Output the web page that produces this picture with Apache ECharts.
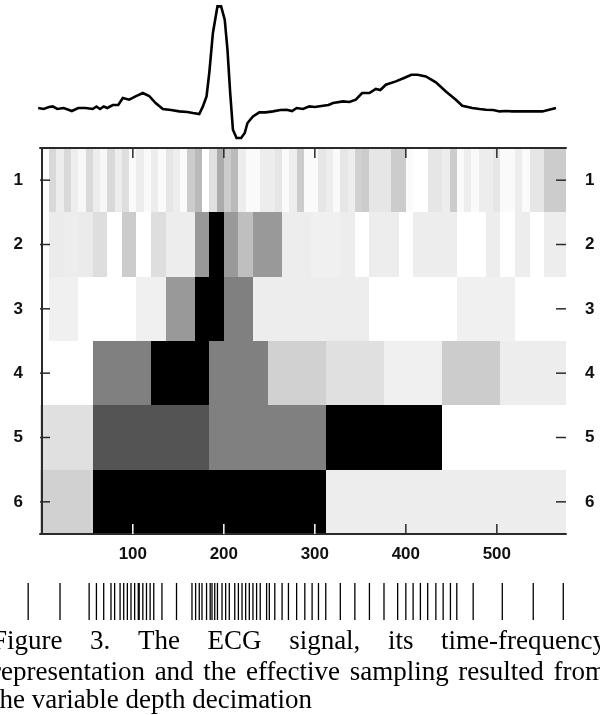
<!DOCTYPE html>
<html><head><meta charset="utf-8">
<script src="https://cdn.jsdelivr.net/npm/echarts@6/dist/echarts.min.js"></script>
<style>html,body{margin:0;padding:0;background:#fff}#c{width:600px;height:715px}</style>
</head><body><div id="c"></div>
<script>
// ---- data ----
const xTicks = [100, 200, 300, 400, 500];
const scaleLabels = [1, 2, 3, 4, 5, 6];
const rowWidths = [8, 16, 32, 64, 128, 256];
const rowStarts = [8, 8, 8, -8, -72, -200];
const row1 = [0.15,0.07,0.15,0.07,0.03,0.15,0.07,0.03,0.15,0.07,
              0.13,0.02,0.07,0.02,0.07,0.02,0.1,0.07,0.02,0.2,
              0.27,0.0,0.12,0.33,0.2,0.27,0.07,0.02,0.02,0.07,
              0.07,0.1,0.02,0.07,0.2,0.02,0.02,0.1,0.07,0.02,
              0.1,0.07,0.18,0.2,0.1,0.1,0.1,0.2,0.2,0.02,
              0.0,0.0,0.1,0.1,0.07,0.2,0.02,0.07,0.02,0.07,
              0.07,0.1,0.02,0.02,0.07,0.02,0.1,0.1,0.2,0.2,
              0.2];
const row2 = [0.08,0.07,0.08,0.13,0.0,0.2,0.0,0.13,0.07,0.07,0.4,1.0,0.4,0.25,0.4,0.4,0.07,0.07,
              0.06,0.06,0.07,0.0,0.07,0.07,0.0,0.07,0.07,0.07,0.0,0.0,0.07,0.0,0.07,0.0,0.07,0.07];
const row3 = [0.06,0,0,0.06,0.4,1.0,0.5,0.07,0.07,0.07,0.07,0,0,0,0.06,0.06,0,0];
const row4 = [0,0.5,1,0.5,0.18,0.12,0.06,0.2,0.07,0.07];
const row5 = [0.12,0.67,0.5,1,0,0];
const row6 = [0.18,1,0.07,0.07];

const ecgX = [-4,2,8,12,17,24,30,33,40,48,56,60,64,68,72,78,84,89,96,103,111,118,125,133,142,151,160,166,173,
              177,181,184,188,193,197,201,204,207,210,214,219,223,226,232,239,246,254,262,269,275,280,287,294,300,
              309,315,320,331,338,345,352,360,367,372,378,389,398,406,413,422,433,444,455,462,473,481,488,496,503,
              510,517,530,540,550,565];
const ecgY = [0.0,-0.01,0.01,0.016,-0.01,0.0,-0.02,-0.03,0.0,0.0,-0.01,0.015,-0.01,0.015,0.0,0.03,0.03,0.10,0.083,
              0.116,0.15,0.12,0.05,-0.01,-0.02,-0.034,-0.04,-0.05,-0.06,0.016,0.116,0.35,0.75,1.016,1.016,0.883,
              0.583,0.15,-0.217,-0.30,-0.30,-0.25,-0.15,-0.084,-0.044,-0.044,-0.034,-0.02,-0.017,-0.03,0.0,-0.01,
              0.016,0.01,0.023,0.03,0.05,0.066,0.06,0.083,0.15,0.15,0.19,0.18,0.233,0.266,0.30,0.333,0.333,0.316,
              0.256,0.166,0.083,0.023,0.0,-0.01,-0.017,-0.02,-0.034,-0.03,-0.034,-0.034,-0.034,-0.034,0.0];

const sampleX = [-15,20,52,60,68,76,80,86,90,94,98,102,106,107,111,115,119,123,132,148,
                 165,169,173,176,181,185,187,190,193,198,202,206,212,216,220,224,228,232,236,240,
                 247,250,256,264,271,280,289,297,304,312,328,344,360,376,391,400,408,416,424,433,
                 441,449,456,474,506,540,573];

const captionLines = [
  "Figure 3. The ECG signal, its time-frequency",
  "representation and the effective sampling resulted from",
  "the variable depth decimation"
];

// ---- build ----
const rows = [row1, row2, row3, row4, row5, row6];
const cells = [];
rows.forEach((vals, r) => vals.forEach((v, j) => {
  const x0 = rowStarts[r] + j * rowWidths[r];
  cells.push([x0, x0 + rowWidths[r], r + 1, v]);
}));
function grayOf(v) { const g = Math.round(255 * (1 - v)); return 'rgb(' + g + ',' + g + ',' + g + ')'; }
function energyAt(r, x) { const j = Math.floor((x - rowStarts[r]) / rowWidths[r]); return rows[r][j] || 0; }

const XMIN = -2, XMAX = 576;
const labelFont = { fontFamily: '"Liberation Sans", Arial, sans-serif', fontWeight: 'bold', fontSize: 17, color: '#111' };
const axisCol = '#2a2a2a';
const TICK = 10;

// tick descriptors: [side, value]
const tickItems = [];
xTicks.forEach(v => { tickItems.push([0, v]); tickItems.push([1, v]); });
scaleLabels.forEach(v => { tickItems.push([2, v]); tickItems.push([3, v]); });

// caption, justified
const capFont = '27px "Liberation Serif"';
const ctx = document.createElement('canvas').getContext('2d');
ctx.font = capFont;
const L = -8, R = 606, baselines = [650, 681, 709];
const graphics = [];
captionLines.forEach((line, i) => {
  const words = line.split(' ');
  const ws = words.map(w => ctx.measureText(w).width);
  const total = ws.reduce((a, b) => a + b, 0);
  const last = i === captionLines.length - 1;
  const gap = last ? ctx.measureText(' ').width : (R - L - total) / (words.length - 1);
  let x = L;
  words.forEach((w, k) => {
    graphics.push({ type: 'text', x: x, y: baselines[i] - 8.2, silent: true,
      style: { text: w, font: capFont, fill: '#000', align: 'left', verticalAlign: 'middle' } });
    x += ws[k] + gap;
  });
});

const chart = echarts.init(document.getElementById('c'), null, { renderer: 'canvas' });
chart.setOption({
  animation: false,
  backgroundColor: '#fff',
  grid: [
    { left: 40, right: 34, top: 5, height: 135, outerBoundsMode: 'none', containLabel: false },
    { left: 40, right: 34, top: 148, height: 386, outerBoundsMode: 'none', containLabel: false },
    { left: 40, right: 34, top: 583, height: 37, outerBoundsMode: 'none', containLabel: false }
  ],
  xAxis: [
    { gridIndex: 0, type: 'value', min: XMIN, max: XMAX, show: false },
    { gridIndex: 1, type: 'value', min: XMIN, max: XMAX, z: 5,
      axisLine: { show: true, lineStyle: { color: axisCol, width: 2 } },
      axisTick: { show: false },
      splitLine: { show: false },
      axisLabel: Object.assign({ customValues: xTicks, margin: 12 }, labelFont) },
    { gridIndex: 1, type: 'value', position: 'top', min: XMIN, max: XMAX, z: 5,
      axisLine: { show: true, lineStyle: { color: axisCol, width: 2 } },
      axisTick: { show: false }, splitLine: { show: false }, axisLabel: { show: false } },
    { gridIndex: 2, type: 'value', min: XMIN, max: XMAX, show: false }
  ],
  yAxis: [
    { gridIndex: 0, type: 'value', min: -0.32, max: 1.03, show: false },
    { gridIndex: 1, type: 'value', min: 0.5, max: 6.5, inverse: true, z: 5,
      axisLine: { show: true, lineStyle: { color: axisCol, width: 2 } },
      axisTick: { show: false }, splitLine: { show: false },
      axisLabel: Object.assign({ customValues: scaleLabels, margin: 17 }, labelFont) },
    { gridIndex: 1, type: 'value', position: 'right', min: 0.5, max: 6.5, inverse: true, z: 5,
      axisLine: { show: true, lineStyle: { color: axisCol, width: 2 } },
      axisTick: { show: false }, splitLine: { show: false },
      axisLabel: Object.assign({ customValues: scaleLabels, margin: 19 }, labelFont) },
    { gridIndex: 2, type: 'value', min: 0, max: 1, show: false }
  ],
  series: [
    { type: 'line', xAxisIndex: 0, yAxisIndex: 0, clip: false, symbol: 'none', silent: true,
      data: ecgX.map((x, i) => [x, ecgY[i]]),
      lineStyle: { color: '#000', width: 2.6, join: 'miter' } },
    { type: 'custom', xAxisIndex: 1, yAxisIndex: 1, silent: true, z: 2,
      encode: { x: [0, 1], y: 2 },
      data: cells,
      renderItem: function (params, api) {
        const p0 = api.coord([api.value(0), api.value(2) - 0.5]);
        const p1 = api.coord([api.value(1), api.value(2) + 0.5]);
        const x0 = Math.round(p0[0]), x1 = Math.round(p1[0]);
        const y0 = Math.round(p0[1]), y1 = Math.round(p1[1]);
        const cs = params.coordSys;
        const rect = echarts.graphic.clipRectByRect(
          { x: x0, y: y0, width: x1 - x0, height: y1 - y0 },
          { x: cs.x, y: cs.y, width: cs.width, height: cs.height });
        if (!rect) return;
        return { type: 'rect', shape: rect, style: { fill: grayOf(api.value(3)) } };
      } },
    { type: 'custom', xAxisIndex: 1, yAxisIndex: 1, silent: true, z: 10,
      data: tickItems,
      renderItem: function (params, api) {
        const side = api.value(0), v = api.value(1);
        let p, dx = 0, dy = 0, e;
        if (side === 0) { p = api.coord([v, 6.5]); dy = -TICK; e = energyAt(5, v); }
        else if (side === 1) { p = api.coord([v, 0.5]); dy = TICK; e = energyAt(0, v); }
        else if (side === 2) { p = api.coord([XMIN, v]); dx = TICK; e = energyAt(v - 1, XMIN + 3); }
        else { p = api.coord([XMAX, v]); dx = -TICK; e = energyAt(v - 1, XMAX - 3); }
        const c = e > 0.5 ? '#fff' : axisCol;
        return { type: 'line', shape: { x1: p[0], y1: p[1], x2: p[0] + dx, y2: p[1] + dy },
          style: { stroke: c, lineWidth: 1.5 } };
      } },
    { type: 'custom', xAxisIndex: 3, yAxisIndex: 3, silent: true,
      encode: { x: 0 },
      data: sampleX.map(v => [v]),
      renderItem: function (params, api) {
        const a = api.coord([api.value(0), 0]);
        const b = api.coord([api.value(0), 1]);
        return { type: 'line', shape: { x1: a[0], y1: a[1], x2: b[0], y2: b[1] },
          style: { stroke: '#000', lineWidth: 1.3 } };
      } }
  ],
  graphic: graphics
});
</script>
</body></html>
